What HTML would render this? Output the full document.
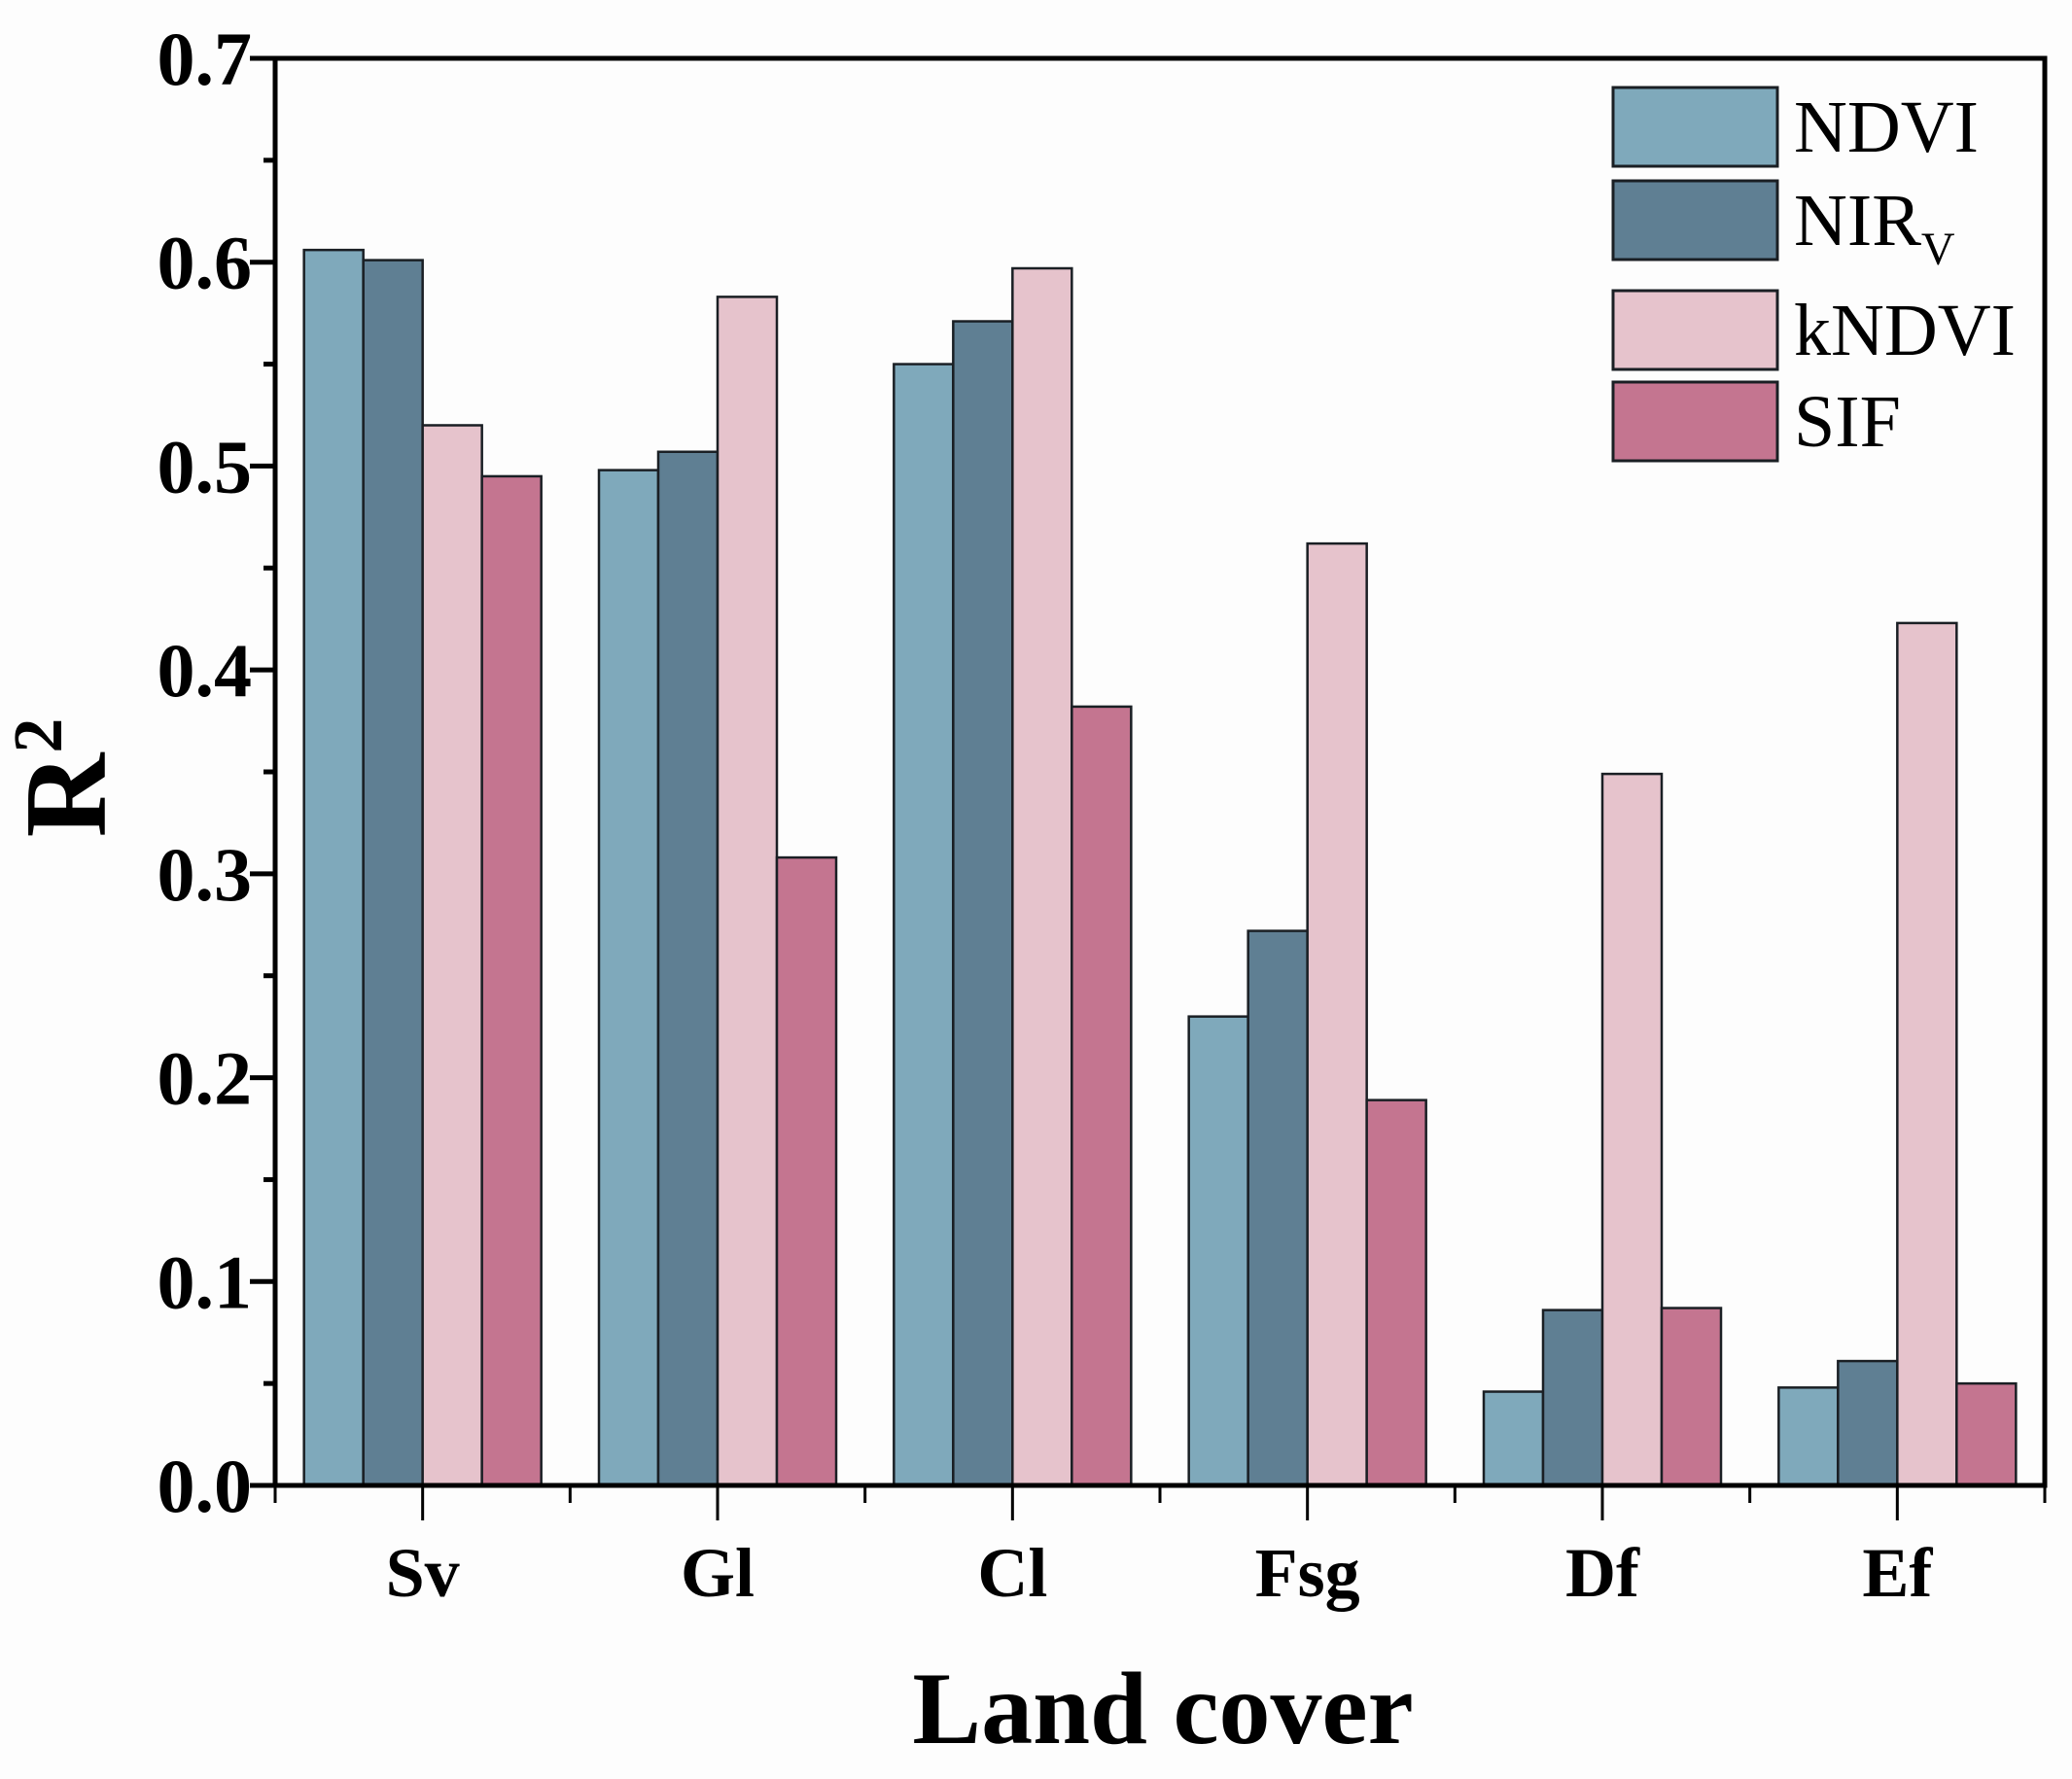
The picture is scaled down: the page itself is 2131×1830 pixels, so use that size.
<!DOCTYPE html>
<html><head><meta charset="utf-8"><style>
html,body{margin:0;padding:0;background:#fdfdfd;}
svg{display:block;font-family:"Liberation Serif",serif;}
</style></head><body>
<svg id="chart" width="2131" height="1830" viewBox="0 0 2131 1830">
<g id="bars"></g>
<g id="axes"></g>
<g id="legend"></g>
<text x="0" y="0" transform="translate(108,800) rotate(-90)" text-anchor="middle" font-size="120" font-weight="bold">R<tspan dy="-45" font-size="72">2</tspan></text>
<text x="1196" y="1793" text-anchor="middle" font-size="106" font-weight="bold">Land cover</text>
</svg>
<script>
const categories = ["Sv","Gl","Cl","Fsg","Df","Ef"];
const seriesNames = ["NDVI","NIRV","kNDVI","SIF"];
const ndvi = [0.606,0.498,0.550,0.230,0.046,0.048];
const nirv = [0.601,0.507,0.571,0.272,0.086,0.061];
const kndvi = [0.520,0.583,0.597,0.462,0.349,0.423];
const sif = [0.495,0.308,0.382,0.189,0.087,0.050];
const yTicks = ["0.0","0.1","0.2","0.3","0.4","0.5","0.6","0.7"];
const colors = ["#7fa9bb","#5f7f93","#e6c3cc","#c47590"];
const series = [ndvi,nirv,kndvi,sif];
const NS="http://www.w3.org/2000/svg";
const L=283,R=2103,T=60,B=1528,yMax=0.7;
const step=(R-L)/categories.length, bw=61;
function y(v){return B-(v/yMax)*(B-T);}
function xc(i){return L+step*(i+0.5);}
function mk(tag,attrs,parent){const e=document.createElementNS(NS,tag);for(const k in attrs)e.setAttribute(k,attrs[k]);parent.appendChild(e);return e;}
const gb=document.getElementById('bars'),ga=document.getElementById('axes'),gl=document.getElementById('legend');
categories.forEach((c,i)=>{
  series.forEach((s,j)=>{
    const x=xc(i)-2*bw+j*bw;
    const r=mk('rect',{x:x,y:y(s[i]),width:bw,height:B-y(s[i]),fill:colors[j],stroke:"#1a1f24","stroke-width":2.5},gb);
    
    
  });
});
const fr=mk('rect',{x:L,y:T,width:R-L,height:B-T,fill:"none",stroke:"#000","stroke-width":5},ga);


for(let k=0;k<=14;k++){
  const v=k*0.05, yy=y(v), major=k%2===0;
  mk('line',{x1:L-(major?26:12),x2:L,y1:yy,y2:yy,stroke:"#000","stroke-width":5},ga);
  if(major){
    const t=mk('text',{x:L-24,y:yy+27,"text-anchor":"end","font-size":78,"font-weight":"bold"},ga);
    t.textContent=yTicks[k/2];
    
    
  }
}
categories.forEach((c,i)=>{
  mk('line',{x1:xc(i),x2:xc(i),y1:B,y2:B+36,stroke:"#000","stroke-width":3},ga);
  mk('line',{x1:L+step*i,x2:L+step*i,y1:B,y2:B+18,stroke:"#000","stroke-width":3},ga);
  const t=mk('text',{x:xc(i),y:1642,"text-anchor":"middle","font-size":72,"font-weight":"bold"},ga);
  t.textContent=c;
  
  
});
mk('line',{x1:R,x2:R,y1:B,y2:B+18,stroke:"#000","stroke-width":3},ga);
const ly=[90,186,299,393];
const labels=["NDVI","NIR","kNDVI","SIF"];
seriesNames.forEach((n,j)=>{
  const r=mk('rect',{x:1659,y:ly[j],width:169,height:81,fill:colors[j],stroke:"#1a1f24","stroke-width":3},gl);
  
  
  const t=mk('text',{x:1845,y:ly[j]+66,"font-size":76},gl);
  t.textContent=labels[j];
  if(j===1){const s=mk('tspan',{"font-size":48,dy:20},t);s.textContent="V";}
  
  
});
</script>
</body></html>
